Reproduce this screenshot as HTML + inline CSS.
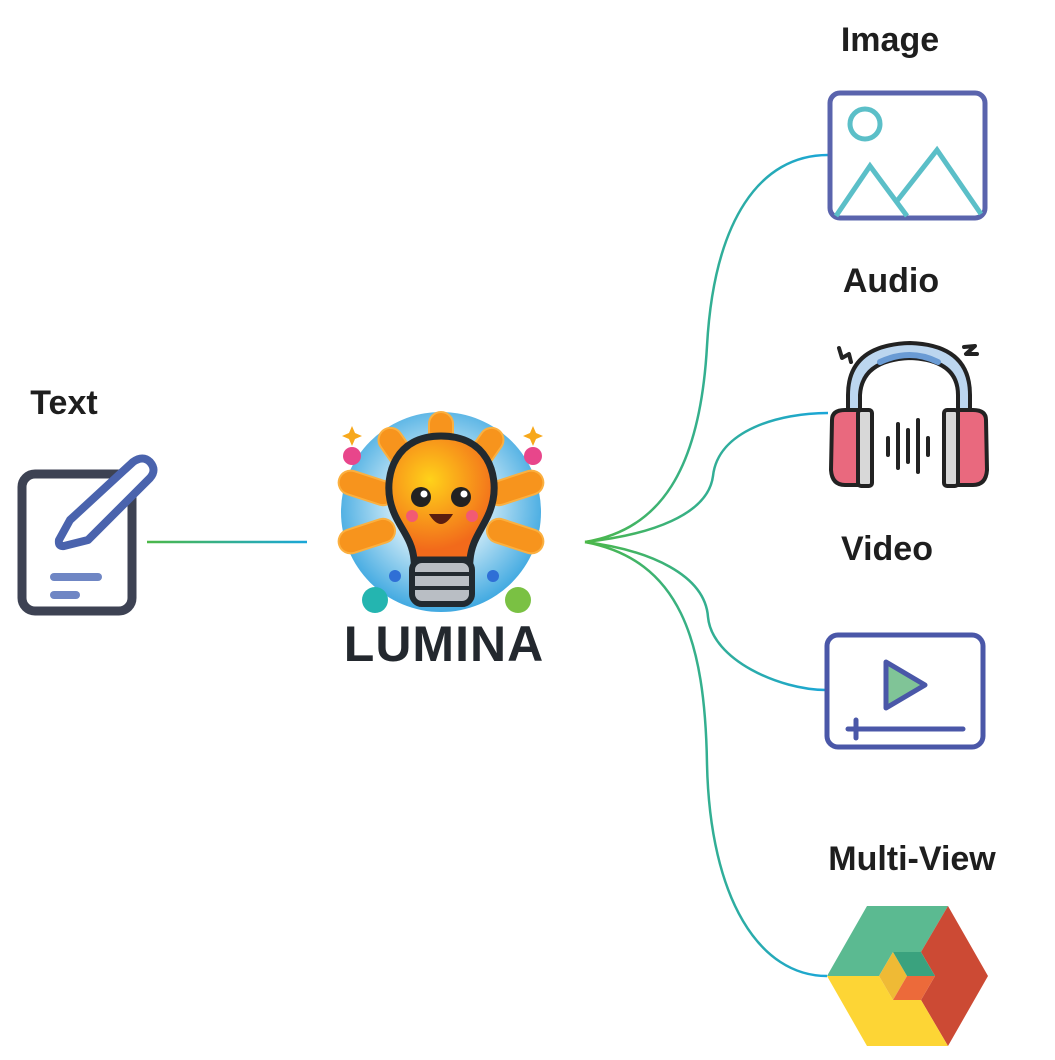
<!DOCTYPE html>
<html><head><meta charset="utf-8"><style>
html,body{margin:0;padding:0;background:#fff;}
svg{display:block;}
.lbl{font-family:"Liberation Sans",sans-serif;font-weight:bold;font-size:34px;fill:#1e1e1e;}
</style></head><body>
<svg width="1055" height="1060" viewBox="0 0 1055 1060" xmlns="http://www.w3.org/2000/svg">
<defs>
<linearGradient id="g1" gradientUnits="userSpaceOnUse" x1="147" y1="0" x2="307" y2="0"><stop offset="0" stop-color="#4cb848"/><stop offset="1" stop-color="#1aa6d9"/></linearGradient>
<linearGradient id="g2" gradientUnits="userSpaceOnUse" x1="585" y1="0" x2="828" y2="0"><stop offset="0" stop-color="#4cb848"/><stop offset="1" stop-color="#1aa6d9"/></linearGradient>
<radialGradient id="sun" cx="440" cy="505" r="110" gradientUnits="userSpaceOnUse"><stop offset="0.3" stop-color="#e8f6fb"/><stop offset="1" stop-color="#3aa6e0"/></radialGradient>
<radialGradient id="bulb" cx="430" cy="480" r="70" gradientUnits="userSpaceOnUse"><stop offset="0" stop-color="#ffd21a"/><stop offset="1" stop-color="#f26a1b"/></radialGradient>
</defs>

<text class="lbl" x="64" y="414" text-anchor="middle">Text</text>
<text class="lbl" x="890" y="51" text-anchor="middle">Image</text>
<text class="lbl" x="891" y="292" text-anchor="middle">Audio</text>
<text class="lbl" x="887" y="560" text-anchor="middle">Video</text>
<text class="lbl" x="912" y="870" text-anchor="middle">Multi-View</text>

<line x1="147" y1="542" x2="307" y2="542" stroke="url(#g1)" stroke-width="2.5"/>
<g fill="none" stroke="url(#g2)" stroke-width="2.5">
<path d="M585,542 C660,530 700,470 707,346 C714,220 760,155 828,155"/>
<path d="M585,542 C650,535 708,515 713,476 C718,430 780,413 828,413"/>
<path d="M585,542 C650,550 705,575 708,617 C712,660 780,690 826,690"/>
<path d="M585,542 C680,560 705,640 707,764 C710,900 760,976 827,976"/>
</g>

<rect x="22" y="474" width="110" height="137" rx="13" fill="none" stroke="#3d4253" stroke-width="9"/>
<path d="M70,520 L133,462 Q143,455 150,462 Q157,470 150,478 L88,540 L64,546 Q58,547 59,540 Z" fill="#fff" stroke="#4a63ad" stroke-width="8" stroke-linejoin="round"/>
<line x1="54" y1="577" x2="98" y2="577" stroke="#6f86c4" stroke-width="8" stroke-linecap="round"/>
<line x1="54" y1="595" x2="76" y2="595" stroke="#6f86c4" stroke-width="8" stroke-linecap="round"/>

<rect x="830" y="93" width="155" height="125" rx="10" fill="#fff" stroke="#5a64ad" stroke-width="5"/>
<circle cx="865" cy="124" r="15" fill="none" stroke="#5bbfc8" stroke-width="5"/>
<polyline points="836,216 870,166 907,216" fill="none" stroke="#5bbfc8" stroke-width="5"/>
<polyline points="897,201 937,150 981,214" fill="none" stroke="#5bbfc8" stroke-width="5"/>

<g stroke="#222" stroke-width="4" stroke-linecap="round" stroke-linejoin="round">
<path d="M848,412 L848,395 Q848,345 910,343 Q970,345 970,395 L970,412 L958,412 L958,395 Q958,360 910,358 Q862,360 860,395 L860,412 Z" fill="#bcd6ef"/>
<path d="M880,362 Q910,348 938,362" fill="none" stroke="#6a9bd4" stroke-width="6"/>
<path d="M832,420 Q832,410 845,410 L860,410 L862,485 L845,485 Q832,485 831,470 Z" fill="#e9697e"/>
<rect x="858" y="410" width="14" height="76" rx="3" fill="#d8d8d8"/>
<path d="M986,420 Q986,410 973,410 L958,410 L956,485 L973,485 Q986,485 987,470 Z" fill="#e9697e"/>
<rect x="944" y="410" width="14" height="76" rx="3" fill="#d8d8d8"/>
<line x1="888" y1="438" x2="888" y2="455"/><line x1="898" y1="424" x2="898" y2="468"/>
<line x1="908" y1="430" x2="908" y2="462"/><line x1="918" y1="420" x2="918" y2="472"/>
<line x1="928" y1="438" x2="928" y2="455"/>
<path d="M839,348 L842,358 L849,354 L851,362" fill="none"/>
<path d="M964,347 L975,346 L966,354 L977,354" fill="none"/>
</g>

<rect x="827" y="635" width="156" height="112" rx="11" fill="#fff" stroke="#4a57a8" stroke-width="5"/>
<path d="M886,662 L886,708 L925,685 Z" fill="#80c497" stroke="#4a57a8" stroke-width="5" stroke-linejoin="round"/>
<line x1="848" y1="729" x2="963" y2="729" stroke="#4a57a8" stroke-width="5" stroke-linecap="round"/>
<line x1="856" y1="720" x2="856" y2="738" stroke="#4a57a8" stroke-width="5" stroke-linecap="round"/>

<polygon points="867,906 948,906 921,952 893,952 879,976 827,976" fill="#5bba91"/>
<polygon points="948,906 988,976 948,1046 921,1000 935,976 921,952" fill="#cc4a34"/>
<polygon points="827,976 879,976 893,1000 921,1000 948,1046 867,1046" fill="#fdd535"/>
<polygon points="879,976 893,952 907,976 893,1000" fill="#efba35"/>
<polygon points="893,952 921,952 935,976 907,976" fill="#3aa27e"/>
<polygon points="907,976 935,976 921,1000 893,1000" fill="#ec6a3a"/>

<!-- Lumina logo -->
<circle cx="441" cy="512" r="100" fill="url(#sun)"/>
<g fill="#f7941d" stroke="#fbb040" stroke-width="2">
<rect x="429" y="412" width="24" height="50" rx="12"/>
<rect x="429" y="412" width="24" height="50" rx="12" transform="rotate(35 441 512)"/>
<rect x="429" y="412" width="24" height="50" rx="12" transform="rotate(-35 441 512)"/>
<rect x="429" y="405" width="24" height="58" rx="12" transform="rotate(72 441 512)"/>
<rect x="429" y="405" width="24" height="58" rx="12" transform="rotate(-72 441 512)"/>
<rect x="429" y="405" width="24" height="58" rx="12" transform="rotate(108 441 512)"/>
<rect x="429" y="405" width="24" height="58" rx="12" transform="rotate(-108 441 512)"/>
</g>
<circle cx="352" cy="456" r="9" fill="#e8468b"/><circle cx="533" cy="456" r="9" fill="#e8468b"/>
<circle cx="375" cy="600" r="13" fill="#24b5b0"/><circle cx="518" cy="600" r="13" fill="#7ac143"/>
<circle cx="395" cy="576" r="6" fill="#2f6fd6"/><circle cx="493" cy="576" r="6" fill="#2f6fd6"/>
<path d="M352,426 l3,7 7,3 -7,3 -3,7 -3,-7 -7,-3 7,-3z" fill="#f7a81b"/>
<path d="M533,426 l3,7 7,3 -7,3 -3,7 -3,-7 -7,-3 7,-3z" fill="#f7a81b"/>
<path d="M441,436 C395,436 385,475 390,500 C395,525 412,535 414,560 L470,560 C472,535 488,525 493,500 C498,475 488,436 441,436 Z" fill="url(#bulb)" stroke="#222a30" stroke-width="7"/>
<rect x="412" y="560" width="60" height="44" rx="10" fill="#b9bec4" stroke="#222a30" stroke-width="6"/>
<line x1="415" y1="574" x2="469" y2="574" stroke="#222a30" stroke-width="4"/>
<line x1="415" y1="588" x2="469" y2="588" stroke="#222a30" stroke-width="4"/>
<circle cx="421" cy="497" r="10" fill="#222"/><circle cx="461" cy="497" r="10" fill="#222"/>
<circle cx="424" cy="494" r="3.5" fill="#fff"/><circle cx="464" cy="494" r="3.5" fill="#fff"/>
<circle cx="412" cy="516" r="6" fill="#f25a73"/><circle cx="472" cy="516" r="6" fill="#f25a73"/>
<path d="M429,514 Q441,534 453,514 Z" fill="#5a1d10"/>
<text x="444" y="661" text-anchor="middle" font-family="'Liberation Sans',sans-serif" font-weight="bold" font-size="50" fill="#23282e" letter-spacing="1">LUMINA</text>
</svg>
</body></html>
